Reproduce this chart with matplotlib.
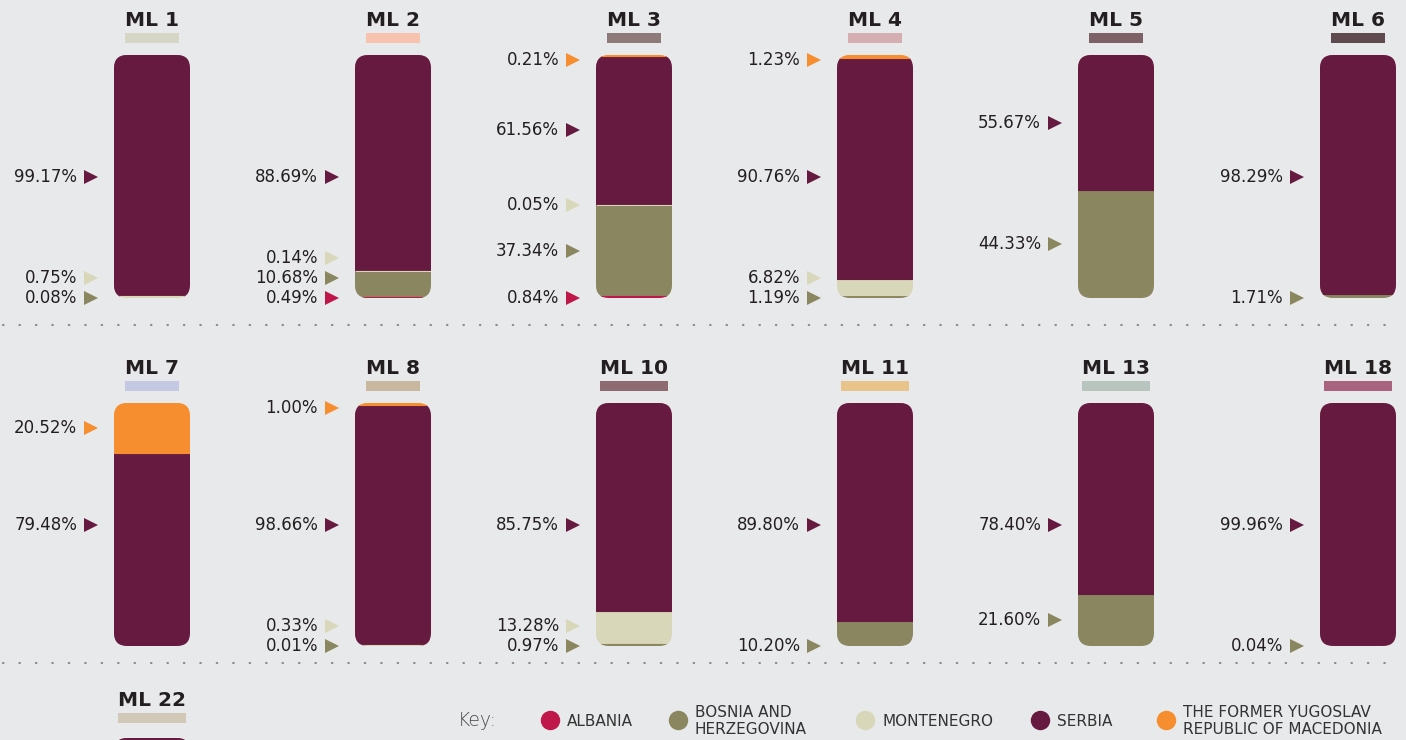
import matplotlib
matplotlib.use("Agg")
import matplotlib.pyplot as plt
from matplotlib.patches import FancyBboxPatch, Rectangle
import matplotlib.transforms as mtrans

# ---------------------------------------------------------------------------
# data (percent of each group by country, bottom -> top stacking order)
panels = ['ML 1', 'ML 2', 'ML 3', 'ML 4', 'ML 5', 'ML 6',
          'ML 7', 'ML 8', 'ML 10', 'ML 11', 'ML 13', 'ML 18', 'ML 22']
albania    = [0, 0.49, 0.84, 0, 0, 0, 0, 0, 0, 0, 0, 0, 0]
bosnia     = [0.08, 10.68, 37.34, 1.19, 44.33, 1.71, 0, 0.01, 0.97, 10.20, 21.60, 0.04, 0]
montenegro = [0.75, 0.14, 0.05, 6.82, 0, 0, 0, 0.33, 13.28, 0, 0, 0, 0]
serbia     = [99.17, 88.69, 61.56, 90.76, 55.67, 98.29, 79.48, 98.66, 85.75, 89.80, 78.40, 99.96, 100]
fyrom      = [0, 0, 0.21, 1.23, 0, 0, 20.52, 1.00, 0, 0, 0, 0, 0]

countries = ['ALBANIA', 'BOSNIA AND\nHERZEGOVINA', 'MONTENEGRO', 'SERBIA',
             'THE FORMER YUGOSLAV\nREPUBLIC OF MACEDONIA']
country_colors = ['#c0174a', '#8a8760', '#d9d7b9', '#671a40', '#f68d2e']
underline_colors = ['#d6d6c6', '#f8c3ae', '#8e7a78', '#d4aeb0', '#7e6166', '#5f4b4f',
                    '#c5c8e2', '#c8b8a0', '#8d6b70', '#e8c48a', '#b8c5bf', '#a9637f', '#d2c8b8']

# ---------------------------------------------------------------------------
W, H = 1406, 740
bg = '#e8e9eb'
txt = '#231f20'
col_left = [114, 355, 596, 837, 1078, 1320]
row_top = [55, 403, 738]
title_y = [20, 368, 700]
bar_w, bar_h = 76, 243
gap = 20 / bar_h * 100   # min label spacing in data units

fig = plt.figure(figsize=(W / 100, H / 100), dpi=100, facecolor=bg)

# overlay axes in pixel coordinates (separators, legend, title underlines)
ov = fig.add_axes([0, 0, 1, 1])
ov.set_xlim(0, W)
ov.set_ylim(H, 0)
ov.axis('off')
ov.patch.set_alpha(0)

for ysep in [325, 663]:
    ov.plot([3, 1400], [ysep, ysep], color='#8c8c8c', lw=1.6,
            linestyle=(0, (0.2, 7.2)), dash_capstyle='round')


def label_positions(vals):
    # target y (data units) for each visible segment, then push apart
    idx = [i for i, v in enumerate(vals) if v > 0]
    cum = 0
    targets = []
    for i, v in enumerate(vals):
        if v > 0:
            lo, hi = cum, cum + v
            t = (lo + hi) / 2
            if lo < 30 and hi > 50:
                t = 50
            targets.append(t)
        cum += v
    ys = []
    for k, t in enumerate(targets):
        if k == 0 and t < 6:
            t = 0
        if ys:
            t = max(t, ys[-1] + gap)
        ys.append(t)
    if ys and ys[-1] > 98:
        ys[-1] = 98
        for k in range(len(ys) - 2, -1, -1):
            ys[k] = min(ys[k], ys[k + 1] - gap)
    return idx, ys


renderer = fig.canvas.get_renderer()

for p, name in enumerate(panels):
    row, col = divmod(p, 6)
    left = col_left[col]
    top = row_top[row]
    cx = left + bar_w / 2

    ax = fig.add_axes([left / W, 1 - (top + bar_h) / H, bar_w / W, bar_h / H])
    ax.set_xlim(-0.5, 0.5)
    ax.set_ylim(0, 100)
    ax.axis('off')
    ax.patch.set_alpha(0)

    clip = FancyBboxPatch((0, 0), 1, 1, boxstyle='round,pad=0,rounding_size=0.171',
                          mutation_aspect=bar_w / bar_h, transform=ax.transAxes,
                          facecolor='none', edgecolor='none')
    ax.add_patch(clip)

    vals = [albania[p], bosnia[p], montenegro[p], serbia[p], fyrom[p]]
    cum = 0
    for v, c in zip(vals, country_colors):
        if v > 0:
            bars = ax.bar(0, v, bottom=cum, width=1, color=c, edgecolor=c,
                          linewidth=0.8, zorder=3 if v < 1 else 2)
            for b in bars:
                b.set_clip_path(clip)
        cum += v

    # labels with triangles to the left of the bar (only where on the page)
    tr = ax.get_yaxis_transform()
    t_text = mtrans.offset_copy(tr, fig=fig, x=-37, y=0, units='dots')
    t_tri = mtrans.offset_copy(tr, fig=fig, x=-23, y=0, units='dots')
    idx, ys = label_positions(vals)
    for i, y in zip(idx, ys):
        if top + bar_h * (1 - y / 100) > H - 10:
            continue
        ax.text(0, y, f'{vals[i]:.2f}%', transform=t_text, ha='right', va='center',
                fontsize=12, color=txt, clip_on=False)
        ax.plot([0], [y], marker='>', ms=10, color=country_colors[i],
                transform=t_tri, clip_on=False, mew=0)

    # title with coloured underline
    t = ov.text(cx, title_y[row], name, ha='center', va='center', fontsize=14.5,
                fontweight='bold', color=txt)
    bb = t.get_window_extent(renderer)
    ov.add_patch(Rectangle((bb.x0, title_y[row] + 13), bb.width, 10,
                           color=underline_colors[p], lw=0))

# legend
ov.text(458, 720, 'Key:', ha='left', va='center', fontsize=13.5, color='#4a4a4a',
        fontweight='light')
leg_dot_x = [550, 678, 865, 1040, 1166]
for x, name, c in zip(leg_dot_x, countries, country_colors):
    ov.plot([x], [720], marker='o', ms=14, color=c, mew=0)
    ov.text(x + 17, 721, name, ha='left', va='center', fontsize=11,
            color='#333333', linespacing=1.15)

fig.savefig('out.png', dpi=100, facecolor=bg)
